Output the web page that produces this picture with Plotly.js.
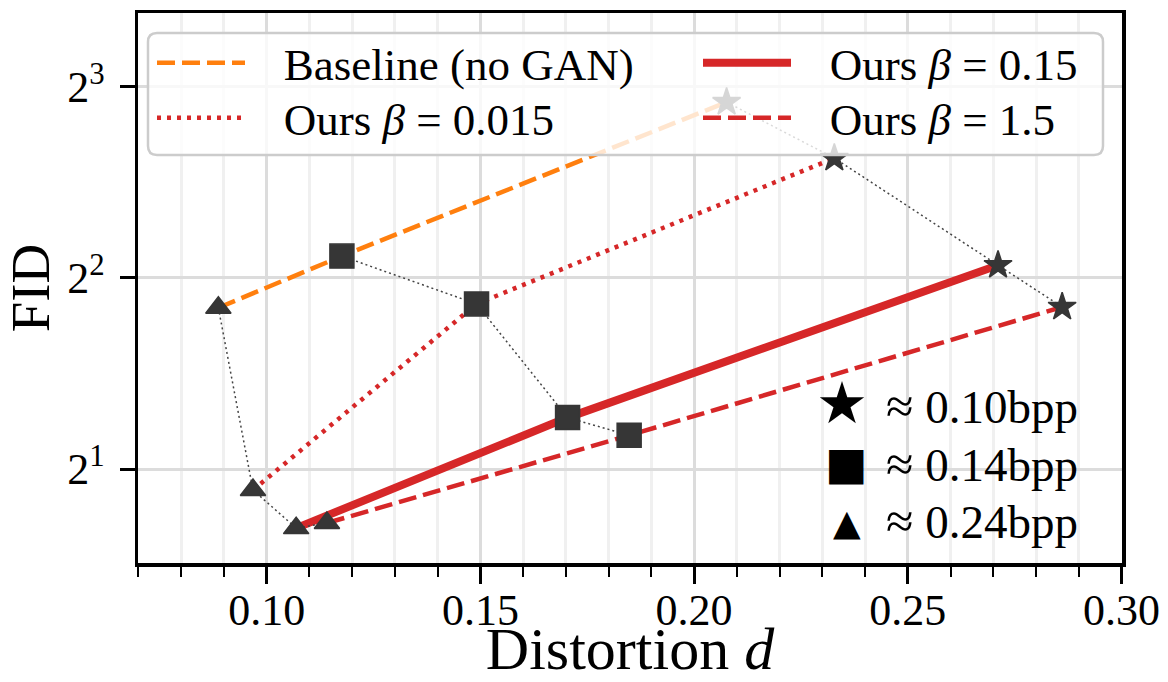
<!DOCTYPE html>
<html><head><meta charset="utf-8">
<script src="https://cdn.plot.ly/plotly-3.0.1.min.js"></script>
<style>html,body{margin:0;padding:0;background:#fff}</style>
</head><body><div id="chart" style="width:1168px;height:682px"></div>
<script>
// Legend names of the four methods
const seriesNames = ['Baseline (no GAN)', 'Ours <i>β</i> = 0.015', 'Ours <i>β</i> = 0.15', 'Ours <i>β</i> = 1.5'];
// Points of each method, ordered: ≈0.24bpp (triangle), ≈0.14bpp (square), ≈0.10bpp (star)
const distBaseline = [0.0887, 0.1176, 0.2076];
const fidBaseline  = [3.59, 4.33, 7.57];
const distBeta0015 = [0.0968, 0.1491, 0.2328];
const fidBeta0015  = [1.853, 3.64, 6.18];
const distBeta015  = [0.1069, 0.1704, 0.2711];
const fidBeta015   = [1.614, 2.41, 4.19];
const distBeta15   = [0.1141, 0.1848, 0.2861];
const fidBeta15    = [1.644, 2.26, 3.60];
const bppLabels = ['0.24bpp', '0.14bpp', '0.10bpp'];
const bppGlyphs = ['▲', '■', '★'];
const yTickVals = [2, 4, 8];
const yTickText = ['2<sup>1</sup>', '2<sup>2</sup>', '2<sup>3</sup>'];
const xTickFormat = '.2f';

const FONT = 'Liberation Serif, Times New Roman, serif';
const PL = 138, PR = 1122, PT = 13, PB = 563;
const W = PR - PL, H = PB - PT;
const px2x = p => (p - PL) / W;
const py2y = p => (PB - p) / H;

const allDist = [distBaseline, distBeta0015, distBeta015, distBeta15];
const allFid = [fidBaseline, fidBeta0015, fidBeta015, fidBeta15];
// legend slot of each series: legend id, left px, row centre px
const styles = [
  {color: '#ff7f0e', width: 4.5, dash: '18px,7px', legend: 'legend',  lx: 152, ly: 63},
  {color: '#d62728', width: 4.5, dash: '4px,6px',  legend: 'legend2', lx: 152, ly: 118},
  {color: '#d62728', width: 8,   dash: 'solid',    legend: 'legend3', lx: 698, ly: 63},
  {color: '#d62728', width: 4.5, dash: '18px,7px', legend: 'legend4', lx: 698, ly: 118}
];
const pad = '\u00a0\u00a0\u00a0';
const traces = [];
seriesNames.forEach((n, i) => {
  traces.push({
    x: allDist[i], y: allFid[i], type: 'scatter', mode: 'lines', name: pad + n,
    line: {color: styles[i].color, width: styles[i].width, dash: styles[i].dash},
    legend: styles[i].legend, hoverinfo: 'skip'
  });
});
const symbols = ['triangle-up', 'square', 'star'];
const sizes = [22, 24, 21];
for (let k = 0; k < 3; k++) {
  traces.push({
    x: allDist.map(a => a[k]), y: allFid.map(a => a[k]), type: 'scatter', mode: 'lines+markers',
    showlegend: false, hoverinfo: 'skip',
    line: {color: '#444', width: 1.5, dash: '2px,3px'},
    marker: {symbol: symbols[k], size: sizes[k], color: '#363636', line: {color: '#363636', width: 1.5}}
  });
}

// rounded legend frame
function roundRect(x0, y0, x1, y1, r) {
  const X = p => px2x(p).toFixed(5), Y = p => py2y(p).toFixed(5);
  return `M${X(x0 + r)},${Y(y0)} L${X(x1 - r)},${Y(y0)} Q${X(x1)},${Y(y0)} ${X(x1)},${Y(y0 + r)} ` +
    `L${X(x1)},${Y(y1 - r)} Q${X(x1)},${Y(y1)} ${X(x1 - r)},${Y(y1)} L${X(x0 + r)},${Y(y1)} ` +
    `Q${X(x0)},${Y(y1)} ${X(x0)},${Y(y1 - r)} L${X(x0)},${Y(y0 + r)} Q${X(x0)},${Y(y0)} ${X(x0 + r)},${Y(y0)} Z`;
}

// bpp key (text rows, bottom to top)
const annYs = [521, 464, 406];
const glyphYs = [522, 463, 403];
const glyphXs = [847, 846, 842];
const glyphSizes = [36, 45, 58];
const annotations = [];
bppLabels.forEach((t, k) => {
  annotations.push({
    xref: 'paper', yref: 'paper', x: px2x(1080), y: py2y(annYs[k]), xanchor: 'right', yanchor: 'middle',
    showarrow: false, text: `<span style="font-size:50px">≈</span> ${t}`,
    font: {family: FONT, size: 47, color: '#000'}
  });
  annotations.push({
    xref: 'paper', yref: 'paper', x: px2x(glyphXs[k]), y: py2y(glyphYs[k]), xanchor: 'center', yanchor: 'middle',
    showarrow: false, text: bppGlyphs[k], height: 52,
    font: {family: 'DejaVu Sans', size: glyphSizes[k], color: '#000'}
  });
});

const axisCommon = {
  showline: true, linecolor: '#000', linewidth: 3.5, mirror: true,
  ticks: 'outside', tickcolor: '#000', tickwidth: 3,
  showgrid: true, gridcolor: '#dcdcdc', gridwidth: 3, zeroline: false,
  tickfont: {family: FONT, size: 44, color: '#000'}
};

const legendBase = {xanchor: 'left', yanchor: 'middle', bgcolor: 'rgba(0,0,0,0)', borderwidth: 0,
                    font: {family: FONT, size: 45, color: '#000'}, itemwidth: 88, tracegroupgap: 0};
const layout = {
  width: 1168, height: 682,
  margin: {l: PL, r: 1168 - PR, t: PT, b: 682 - PB},
  paper_bgcolor: '#fff', plot_bgcolor: '#fff',
  font: {family: FONT, color: '#000'},
  xaxis: Object.assign({}, axisCommon, {
    range: [0.0699, 0.3001], tickmode: 'linear', tick0: 0, dtick: 0.05, tickformat: xTickFormat,
    ticklen: 17, ticklabelstandoff: -11,
    minor: {dtick: 0.01, tick0: 0, ticks: 'outside', ticklen: 10, tickwidth: 2, tickcolor: '#000',
            showgrid: true, gridcolor: '#f0f0f0', gridwidth: 3},
    title: {text: 'Distortion <i>d</i>', font: {family: FONT, size: 60, color: '#000'}, standoff: 6},
    automargin: false
  }),
  yaxis: Object.assign({}, axisCommon, {
    type: 'log', range: [Math.log10(Math.pow(2, 0.508)), Math.log10(Math.pow(2, 3.387))],
    tickmode: 'array', tickvals: yTickVals, ticktext: yTickText,
    ticklen: 15, ticklabelstandoff: 6,
    title: {text: 'FID', font: {family: FONT, size: 55, color: '#000'}, standoff: 10},
    automargin: false
  }),
  showlegend: true,
  shapes: [{type: 'path', xref: 'paper', yref: 'paper', layer: 'above', path: roundRect(148, 33, 1103, 155, 9),
            fillcolor: 'rgba(255,255,255,0.8)', line: {color: '#cccccc', width: 2.5}}],
  annotations: annotations
};
styles.forEach(s => {
  layout[s.legend] = Object.assign({}, legendBase, {x: px2x(s.lx), y: py2y(s.ly)});
});

Plotly.newPlot('chart', traces, layout, {displayModeBar: false, staticPlot: true});
</script></body></html>
